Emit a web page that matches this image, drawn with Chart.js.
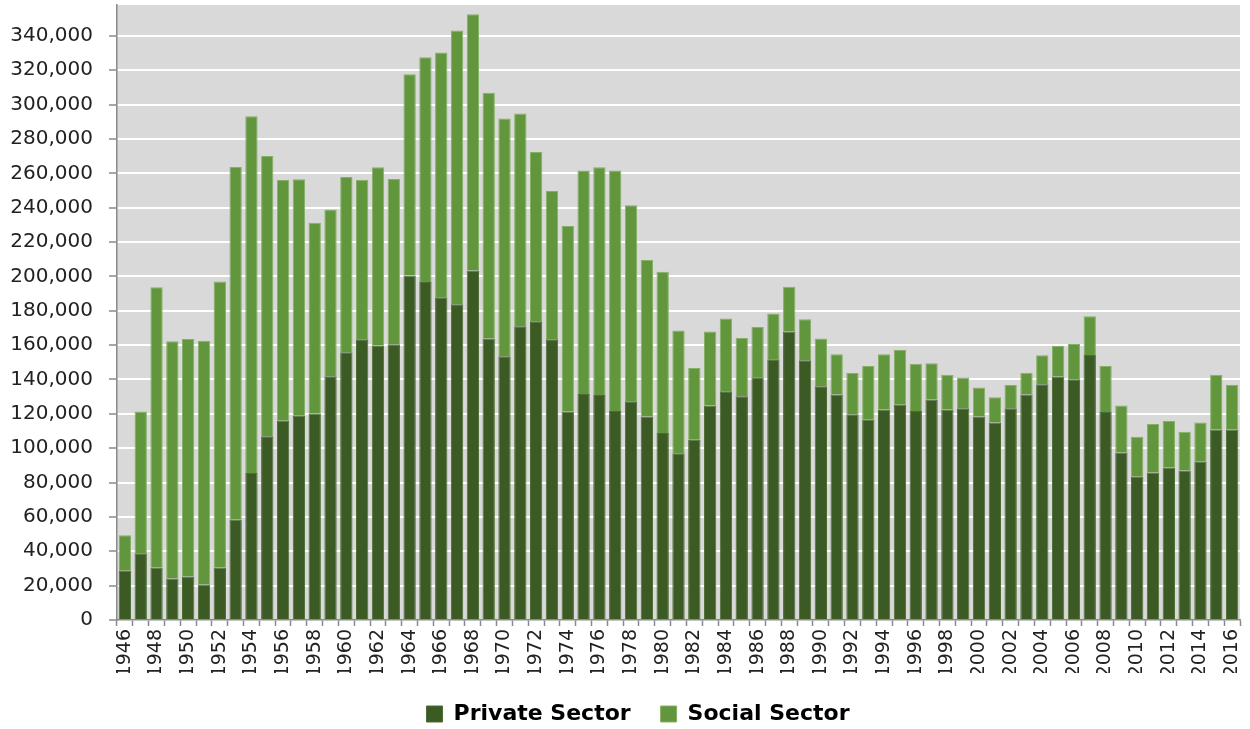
<!DOCTYPE html>
<html>
<head>
<meta charset="utf-8">
<script src="https://cdn.jsdelivr.net/npm/chart.js@4/dist/chart.umd.min.js"></script>
<style>
  html, body { margin: 0; padding: 0; background: #ffffff; }
  #wrap { width: 1250px; height: 729px; position: relative; }
</style>
</head>
<body>
<div id="wrap"><canvas id="chart" width="1250" height="729"></canvas></div>
<script>
// Completions per year, 1946–2016
const years = [];
for (let y = 1946; y <= 2016; y++) years.push(String(y));

const privateSector = [
  28700, 38900, 30500, 24100, 25300, 20600, 30500, 58500, 85500, 106900,
  116000, 118900, 120100, 141900, 155900, 163400, 159600, 160500, 200600, 196700,
  187900, 183800, 203500, 163800, 153500, 171000, 173900, 163400, 121400, 131600,
  131000, 121700, 127300, 118500, 108800, 97000, 104900, 124800, 133100, 130200,
  141300, 151800, 167900, 151200, 136000, 131300, 119700, 116600, 122600, 125300,
  121700, 128300, 122600, 123200, 118500, 115000, 123200, 131300, 137200, 141800,
  140100, 154300, 121100, 97500, 83400, 85900, 88800, 87000, 92100, 110900,
  110900
];

const socialSector = [
  20700, 82400, 163200, 138200, 138300, 141900, 166600, 205200, 207700, 163200,
  140100, 137600, 111200, 97000, 102000, 92900, 103900, 96200, 117100, 130900,
  142500, 159300, 149100, 143100, 138400, 123800, 98500, 86300, 107900, 130000,
  132500, 139900, 114100, 91000, 93900, 71500, 41800, 43100, 42400, 34000,
  29300, 26600, 26100, 23900, 27800, 23400, 24100, 31300, 32100, 31900,
  27400, 21100, 20100, 17900, 16800, 14600, 13600, 12700, 16900, 17800,
  20600, 22500, 26800, 27400, 23300, 28200, 27000, 22600, 22800, 31800,
  26100
];

// Value axis: labelled ticks 0 … 340,000 every 20,000
const yTickValues = [];
for (let v = 0; v <= 340000; v += 20000) yTickValues.push(v);
const yMax = 358000;

// Grey fill behind the plot area
const plotBackground = {
  id: 'plotBackground',
  beforeDraw(chart) {
    const { ctx, chartArea: a } = chart;
    ctx.save();
    ctx.fillStyle = '#d9d9d9';
    ctx.fillRect(a.left, a.top, a.right - a.left, a.bottom - a.top);
    ctx.restore();
  }
};

// Centre the legend under the plot area rather than the whole canvas
const legendShift = {
  id: 'legendShift',
  afterLayout(chart) {
    const lg = chart.legend;
    if (!lg) return;
    const dx = 18;
    lg.left += dx;
    lg.right += dx;
  }
};

const axisGrey = '#8a8a8a';

new Chart(document.getElementById('chart'), {
  type: 'bar',
  data: {
    labels: years,
    datasets: [
      {
        label: 'Private Sector',
        data: privateSector,
        backgroundColor: '#3b5a24',
        borderColor: '#4d6d37',
        borderWidth: 1,
        categoryPercentage: 0.78,
        barPercentage: 1.0
      },
      {
        label: 'Social Sector',
        data: socialSector,
        backgroundColor: '#62963d',
        borderColor: '#86b067',
        borderWidth: 1,
        categoryPercentage: 0.78,
        barPercentage: 1.0
      }
    ]
  },
  options: {
    responsive: false,
    animation: false,
    devicePixelRatio: 1,
    layout: { padding: { left: 0, right: 10, top: 5, bottom: 0 } },
    plugins: {
      tooltip: { enabled: false },
      legend: {
        position: 'bottom',
        maxHeight: 56,
        labels: {
          boxWidth: 16,
          boxHeight: 16,
          padding: 30,
          color: '#000000',
          font: { family: '"DejaVu Sans", sans-serif', size: 22, weight: 'bold' }
        }
      }
    },
    scales: {
      x: {
        stacked: true,
        offset: true,
        grid: {
          display: true,
          offset: true,
          drawOnChartArea: false,
          drawTicks: true,
          tickLength: 6,
          tickColor: axisGrey,
          tickWidth: 1.5
        },
        border: { display: true, color: axisGrey, width: 1.5 },
        ticks: {
          autoSkip: false,
          minRotation: 90,
          maxRotation: 90,
          padding: 3,
          color: '#222222',
          font: { family: '"DejaVu Sans", sans-serif', size: 19 },
          callback: function (value, index) {
            return index % 2 === 0 ? years[index] : '';
          }
        },
        afterFit: function (scale) {
          scale.height = 53;
          scale.paddingLeft = 0;
          scale.paddingRight = 0;
        }
      },
      y: {
        stacked: true,
        min: 0,
        max: yMax,
        grid: {
          color: (c) => (c.tick && c.tick.value === 0 ? 'rgba(0,0,0,0)' : '#ffffff'),
          lineWidth: 2,
          drawTicks: true,
          tickLength: 8,
          tickColor: axisGrey,
          tickWidth: 1.5
        },
        border: { display: true, color: axisGrey, width: 1.5 },
        ticks: {
          padding: 16,
          color: '#222222',
          font: { family: '"DejaVu Sans", sans-serif', size: 20 },
          callback: (v) => Number(v).toLocaleString('en-US')
        },
        afterBuildTicks: function (scale) {
          scale.ticks = yTickValues.map((v) => ({ value: v }));
        },
        afterFit: function (scale) {
          scale.width = 117;
          scale.paddingTop = 0;
          scale.paddingBottom = 0;
        }
      }
    }
  },
  plugins: [plotBackground, legendShift]
});
</script>
</body>
</html>
